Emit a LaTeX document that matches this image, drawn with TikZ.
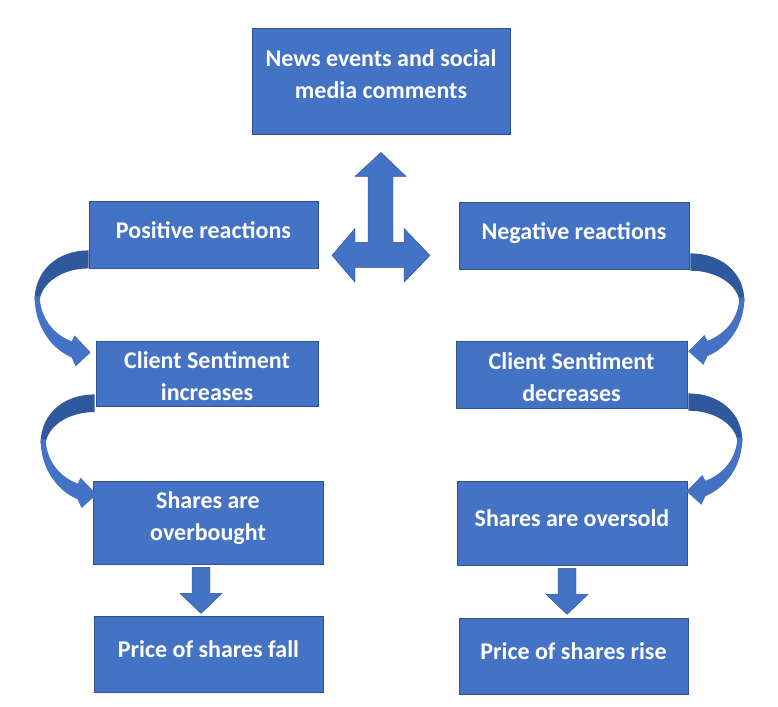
\documentclass[tikz,border=0pt]{standalone}
\usepackage{fontspec}
\setmainfont{Carlito}
\definecolor{boxblue}{HTML}{4472C4}
\definecolor{boxedge}{HTML}{2F528F}
\definecolor{darkblue}{HTML}{30589C}
\tikzset{
  box/.style={rectangle, fill=boxblue, draw=boxedge, line width=0.8pt, text=white,
    font=\bfseries\fontsize{24}{32}\selectfont, inner sep=0pt},
  arrowfill/.style={fill=boxblue, draw=boxedge, line width=0.4pt}
}
% #1 = extra height, #2 = extra depth (text moves by half the difference), #3 = lines
\newcommand\tx[3]{\raisebox{0pt}[\dimexpr\height+#1\relax][\dimexpr\depth+#2\relax]{\begin{tabular}{@{}c@{}}#3\end{tabular}}}
\newcommand\curvedarr{%
  \fill[darkblue] (0,0) .. controls (-31,0) and (-54,20) .. (-54,50) -- (-49,50)
    .. controls (-47,33) and (-27,18) .. (0,18) -- cycle;
  \fill[boxblue] (-54,46) .. controls (-54,75) and (-38,98) .. (-17,107) -- (-13,116)
    -- (2,102) -- (-14,85) -- (-17,91) .. controls (-35,84) and (-48,68) .. (-49,46) -- cycle;}
\newcommand\downarr{%
  \filldraw[arrowfill] (-16,3) -- (2,3) -- (2,29) -- (14,29) -- (-7,49) -- (-28,29) -- (-16,29) -- cycle;}
\begin{document}
\begin{tikzpicture}[x=1pt,y=-1pt]
\useasboundingbox (0,0) rectangle (778,706);
\node[box, minimum width=258pt, minimum height=106pt] (top) at (381,81) {\tx{0pt}{9pt}{News events and social\\media comments}};
\node[box, minimum width=229pt, minimum height=67pt] (pos) at (203.5,234.5) {\tx{0pt}{4pt}{Positive reactions}};
\node[box, minimum width=230pt, minimum height=67pt] (neg) at (574,235.5) {\tx{0pt}{5pt}{Negative reactions}};
\node[box, minimum width=222pt, minimum height=65pt] (cinc) at (207,373.5) {\tx{0pt}{-10pt}{Client Sentiment\\increases}};
\node[box, minimum width=231pt, minimum height=67pt] (cdec) at (571.5,374.5) {\tx{0pt}{-9pt}{Client Sentiment\\decreases}};
\node[box, minimum width=230pt, minimum height=83pt] (over) at (208,522.5) {\tx{0pt}{8pt}{Shares are\\overbought}};
\node[box, minimum width=230pt, minimum height=84pt] (sold) at (572,523) {\tx{0pt}{5pt}{Shares are oversold}};
\node[box, minimum width=229pt, minimum height=76pt] (fall) at (208.5,654) {\tx{0pt}{5pt}{Price of shares fall}};
\node[box, minimum width=229pt, minimum height=76pt] (rise) at (573.5,656) {\tx{0pt}{5pt}{Price of shares rise}};
% three-way arrow below the top box
\begin{scope}[shift={(top.south)}]
  \filldraw[arrowfill] (0,18) -- (25,42) -- (12,42) -- (12,108) -- (23,108) -- (23,94) -- (49,121)
    -- (23,148) -- (23,133) -- (-26,133) -- (-26,148) -- (-49,121) -- (-26,94) -- (-26,108)
    -- (-13,108) -- (-13,42) -- (-26,42) -- cycle;
\end{scope}
% curved arrows
\begin{scope}[shift={(pos.south west)}, shift={(0,-18)}]\curvedarr\end{scope}
\begin{scope}[shift={(cinc.south west)}, shift={(-1,-12)}, yscale=0.98]\curvedarr\end{scope}
\begin{scope}[shift={(neg.south east)}, shift={(1,-16)}, xscale=-1, yscale=0.96]\curvedarr\end{scope}
\begin{scope}[shift={(cdec.south east)}, shift={(1,-15)}, xscale=-1, yscale=0.96]\curvedarr\end{scope}
% down arrows
\begin{scope}[shift={(over.south)}]\downarr\end{scope}
\begin{scope}[shift={(sold.south)}, shift={(2,0)}]\downarr\end{scope}
\end{tikzpicture}
\end{document}
